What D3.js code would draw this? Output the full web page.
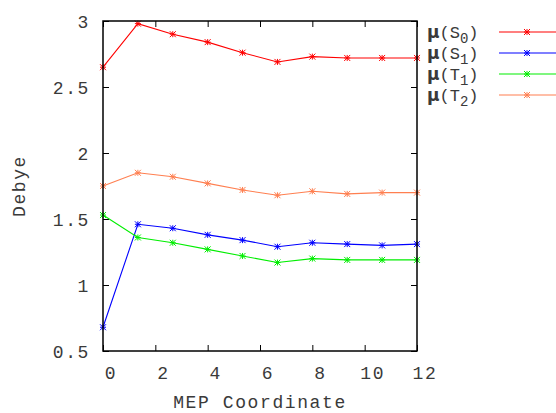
<!DOCTYPE html>
<html>
<head>
<meta charset="utf-8">
<script src="https://cdn.jsdelivr.net/npm/d3@7"></script>
<style>
  body { margin: 0; background: #fff; }
  text { font-family: "Liberation Mono", "DejaVu Sans Mono", monospace; fill: #3a3a3a; }
</style>
</head>
<body>
<div id="chart"></div>
<script>
// Datos
const coords = [0, 1.333, 2.667, 4, 5.333, 6.667, 8, 9.333, 10.667, 12];
const muS0 = [2.65, 2.98, 2.90, 2.84, 2.76, 2.69, 2.73, 2.72, 2.72, 2.72];
const muS1 = [0.68, 1.46, 1.43, 1.38, 1.34, 1.29, 1.32, 1.31, 1.30, 1.31];
const muT1 = [1.53, 1.36, 1.32, 1.27, 1.22, 1.17, 1.20, 1.19, 1.19, 1.19];
const muT2 = [1.75, 1.85, 1.82, 1.77, 1.72, 1.68, 1.71, 1.69, 1.70, 1.70];
const seriesNames = [['S', '0'], ['S', '1'], ['T', '1'], ['T', '2']];
const seriesColors = ['#ff0000', '#0000ff', '#00ee00', '#ff7f50'];
const xTicks = [0, 2, 4, 6, 8, 10, 12];
const yTicks = [0.5, 1, 1.5, 2, 2.5, 3];

const series = [muS0, muS1, muT1, muT2];

// Configuración del gráfico
const margin = { top: 21, right: 139, bottom: 62, left: 103 };
const W = 556, H = 413;
const width = W - margin.left - margin.right;
const height = H - margin.top - margin.bottom;

const root = d3.select('#chart')
  .append('svg')
  .attr('width', W)
  .attr('height', H);

const svg = root.append('g')
  .attr('transform', `translate(${margin.left},${margin.top})`);

// Escalas
const x = d3.scaleLinear().domain([0, 12]).range([0, width]);
const y = d3.scaleLinear().domain([0.5, 3]).range([height, 0]);

const fontSize = 18;
const spacing = 1.6;

// Ejes (ticks hacia dentro, reflejados)
const tl = 6;
svg.append('g').attr('transform', `translate(0,${height})`)
  .call(d3.axisBottom(x).tickValues(xTicks).tickSize(-tl).tickFormat(''))
  .call(g => g.select('.domain').remove());
svg.append('g')
  .call(d3.axisTop(x).tickValues(xTicks).tickSize(-tl).tickFormat(''))
  .call(g => g.select('.domain').remove());
svg.append('g')
  .call(d3.axisLeft(y).tickValues(yTicks).tickSize(-tl).tickFormat(''))
  .call(g => g.select('.domain').remove());
svg.append('g').attr('transform', `translate(${width},0)`)
  .call(d3.axisRight(y).tickValues(yTicks).tickSize(-tl).tickFormat(''))
  .call(g => g.select('.domain').remove());
svg.selectAll('.tick line').attr('stroke', '#000');

// Etiquetas de los ejes
svg.selectAll('.xlab')
  .data(xTicks)
  .enter()
  .append('text')
  .attr('x', d => x(d) + 8)
  .attr('y', height + 28)
  .attr('text-anchor', 'middle')
  .style('font-size', fontSize + 'px')
  .style('letter-spacing', spacing + 'px')
  .text(d => d);

svg.selectAll('.ylab')
  .data(yTicks)
  .enter()
  .append('text')
  .attr('x', -13)
  .attr('y', d => y(d) + 7)
  .attr('text-anchor', 'end')
  .style('font-size', fontSize + 'px')
  .style('letter-spacing', spacing + 'px')
  .text(d => d);

root.append('text')
  .attr('x', 260)
  .attr('y', 408)
  .attr('text-anchor', 'middle')
  .style('font-size', fontSize + 'px')
  .style('letter-spacing', spacing + 'px')
  .text('MEP Coordinate');

root.append('text')
  .attr('transform', `translate(25,${margin.top + height / 2}) rotate(-90)`)
  .attr('text-anchor', 'middle')
  .style('font-size', fontSize + 'px')
  .style('letter-spacing', spacing + 'px')
  .text('Debye');

// Marcador tipo asterisco
function star(g, cx, cy, color, r) {
  const p = `M${cx - r},${cy}H${cx + r}M${cx},${cy - r}V${cy + r}` +
    `M${cx - r},${cy - r}L${cx + r},${cy + r}M${cx - r},${cy + r}L${cx + r},${cy - r}`;
  g.append('path').attr('d', p).attr('stroke', color).attr('stroke-width', 1).attr('fill', 'none');
}

const line = d3.line().x((d, i) => x(coords[i])).y(d => y(d));

series.forEach((data, k) => {
  const g = svg.append('g');
  g.append('path')
    .datum(data)
    .attr('d', line)
    .attr('fill', 'none')
    .attr('stroke', seriesColors[k])
    .attr('stroke-width', 1.1);
  data.forEach((d, i) => star(g, x(coords[i]), y(d), seriesColors[k], 3));
});

// Marco
svg.append('rect')
  .attr('width', width)
  .attr('height', height)
  .attr('fill', 'none')
  .attr('stroke', '#000')
  .attr('stroke-width', 1.5);

// Leyenda
const legend = root.append('g');
seriesNames.forEach((nm, k) => {
  const ly = 32 + k * 21;
  const t = legend.append('text')
    .attr('x', 427)
    .attr('y', ly + 6)
    .style('font-size', '17px');
  t.append('tspan').style('font-weight', 'bold').style('font-family', 'DejaVu Sans').text('μ');
  t.append('tspan').text('(' + nm[0]);
  t.append('tspan').attr('dy', 5).style('font-size', '14px').text(nm[1]);
  t.append('tspan').attr('dy', -5).text(')');
  legend.append('line')
    .attr('x1', 499).attr('x2', 556)
    .attr('y1', ly).attr('y2', ly)
    .attr('stroke', seriesColors[k])
    .attr('stroke-width', 1.1);
  star(legend, 527, ly, seriesColors[k], 3);
});
</script>
</body>
</html>
